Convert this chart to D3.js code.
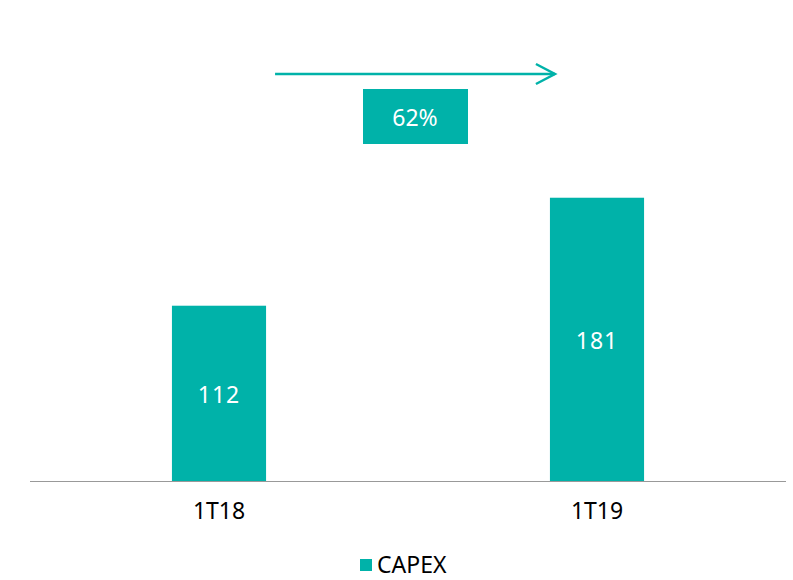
<!DOCTYPE html>
<html>
<head>
<meta charset="utf-8">
<script src="https://cdn.jsdelivr.net/npm/d3@7"></script>
<style>
  body { margin: 0; background: #fff; }
  text { font-family: "Noto Sans", sans-serif; }
</style>
</head>
<body>
<script>
// chart data
var categories = ["1T18", "1T19"];
var capexValues = [112, 181];
var seriesName = "CAPEX";
var growthLabel = "62%";

var w = 793;
var h = 580;
var teal = "#00b2a9";

var svg = d3.select("body")
            .append("svg")
            .attr("width", w)
            .attr("height", h);

var x = d3.scaleBand()
          .domain(categories)
          .range([30, 786])
          .paddingInner(0.751)
          .paddingOuter(0.3755);

var y = d3.scaleLinear()
          .domain([0, 200])
          .range([481, 168]);

// bars
svg.selectAll("rect.bar")
   .data(capexValues)
   .enter()
   .append("rect")
   .attr("class", "bar")
   .attr("x", function(d, i){ return x(categories[i]); })
   .attr("y", function(d){ return y(d); })
   .attr("width", x.bandwidth())
   .attr("height", function(d){ return y(0) - y(d); })
   .attr("fill", teal);

// value labels in the middle of each bar
svg.selectAll("text.value")
   .data(capexValues)
   .enter()
   .append("text")
   .attr("class", "value")
   .attr("x", function(d, i){ return x(categories[i]) + x.bandwidth() / 2; })
   .attr("y", function(d){ return (y(d) + y(0)) / 2 + 2; })
   .attr("dy", "0.35em")
   .attr("text-anchor", "middle")
   .attr("fill", "#fff")
   .style("font-size", "23px")
   .style("letter-spacing", "1px")
   .text(function(d){ return d; });

// axis line + category labels
var xAxis = d3.axisBottom(x).tickSize(0).tickPadding(22);
var gx = svg.append("g")
            .attr("transform", "translate(0," + y(0) + ")")
            .call(xAxis);
gx.select(".domain").remove();
gx.selectAll("text")
  .style("font-size", "23px")
  .attr("fill", "#000");

svg.append("line")
   .attr("x1", 30)
   .attr("x2", 786)
   .attr("y1", y(0) + 0.5)
   .attr("y2", y(0) + 0.5)
   .attr("stroke", "#999")
   .attr("stroke-width", 1);

// growth arrow
var ax1 = x(categories[0]) + x.bandwidth() + 9;
var ax2 = x(categories[1]) + 5;
var ay = 74;
svg.append("line")
   .attr("x1", ax1)
   .attr("x2", ax2)
   .attr("y1", ay)
   .attr("y2", ay)
   .attr("stroke", teal)
   .attr("stroke-width", 2.5);
svg.append("path")
   .attr("d", "M" + (ax2 - 19) + "," + (ay - 10) + "L" + ax2 + "," + ay + "L" + (ax2 - 19) + "," + (ay + 10))
   .attr("fill", "none")
   .attr("stroke", teal)
   .attr("stroke-width", 2.5);

// growth label box
var boxCx = (ax1 + ax2) / 2;
svg.append("rect")
   .attr("x", boxCx - 52)
   .attr("y", 89)
   .attr("width", 105)
   .attr("height", 55)
   .attr("fill", teal);
svg.append("text")
   .attr("x", boxCx)
   .attr("y", 118)
   .attr("dy", "0.35em")
   .attr("text-anchor", "middle")
   .attr("fill", "#fff")
   .style("font-size", "23px")
   .text(growthLabel);

// legend
var legend = svg.append("g").attr("transform", "translate(360,559)");
legend.append("rect")
      .attr("width", 12)
      .attr("height", 12)
      .attr("fill", teal);
legend.append("text")
      .attr("x", 17)
      .attr("y", 6)
      .attr("dy", "0.35em")
      .attr("fill", "#000")
      .style("font-size", "23px")
      .text(seriesName);
</script>
</body>
</html>
